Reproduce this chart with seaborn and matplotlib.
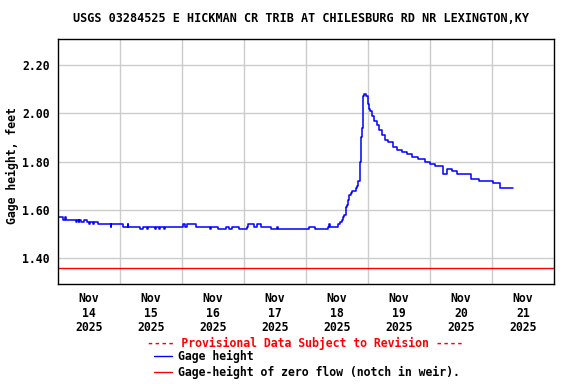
import matplotlib
matplotlib.use('Agg')
import matplotlib.pyplot as plt
from matplotlib.lines import Line2D
import pandas as pd
import seaborn as sns

# Gage height readings (hours after 2025-11-14 00:00, feet), step data
start = pd.Timestamp('2025-11-14 00:00')
gage_hours = [
    0.0, 1.9, 2.7, 3.1, 7.0, 7.3, 8.0, 8.3, 9.0, 10.0, 11.2, 12.0, 12.4, 13.5, 13.9, 15.5,
    20.5, 20.7, 25.2, 27.0, 27.2, 31.7, 32.9, 34.4, 34.7, 37.5, 37.8, 39.1, 39.4, 41.0, 41.5,
    48.4, 49.2, 50.0, 53.5, 58.8, 59.1, 62.0, 65.0, 66.3, 67.5, 70.0, 73.2,
    73.5, 75.9, 77.0, 78.6, 82.5, 84.8, 85.2, 97.2, 99.5, 104.5, 105.0, 105.3,
    108.4, 109.2, 109.8, 110.3, 110.8, 111.4, 111.9, 112.3, 112.8, 113.3, 113.8, 115.2,
    115.8, 116.3, 116.9, 117.3, 117.8, 118.2, 118.6, 119.1, 119.9, 120.4, 120.8, 121.4,
    122.4, 123.4, 124.4, 125.3, 126.6, 127.9, 129.6, 131.1, 133.0, 135.0, 136.9, 139.5,
    142.1, 144.0, 145.9, 148.9, 149.1, 150.6, 152.5, 154.5, 159.9, 163.0, 168.4, 171.1, 176.3,
]
gage_values = [
    1.57, 1.56, 1.57, 1.56, 1.55, 1.56, 1.55, 1.56, 1.55, 1.56, 1.55, 1.54, 1.55, 1.54, 1.55, 1.54,
    1.53, 1.54, 1.53, 1.54, 1.53, 1.52, 1.53, 1.52, 1.53, 1.52, 1.53, 1.52, 1.53, 1.52, 1.53,
    1.54, 1.53, 1.54, 1.53, 1.52, 1.53, 1.52, 1.53, 1.52, 1.53, 1.52, 1.53,
    1.54, 1.53, 1.54, 1.53, 1.52, 1.53, 1.52, 1.53, 1.52, 1.53, 1.54, 1.53,
    1.54, 1.55, 1.56, 1.57, 1.58, 1.61, 1.62, 1.64, 1.66, 1.67, 1.68, 1.69,
    1.70, 1.72, 1.80, 1.90, 1.94, 2.07, 2.08, 2.07, 2.04, 2.02, 2.01, 1.99,
    1.97, 1.95, 1.93, 1.91, 1.89, 1.88, 1.86, 1.85, 1.84, 1.83, 1.82, 1.81,
    1.80, 1.79, 1.78, 1.76, 1.75, 1.77, 1.76, 1.75, 1.73, 1.72, 1.71, 1.69, 1.69,
]
zero_flow = 1.36

tick_days = pd.date_range('2025-11-14 12:00', periods=8, freq='D')
y_ticks = [1.40, 1.60, 1.80, 2.00, 2.20]

df = pd.DataFrame({
    'time': start + pd.to_timedelta(gage_hours, unit='h'),
    'height': gage_values,
})

sns.set_style('white')
plt.rcParams['font.family'] = ['DejaVu Sans Mono']
plt.rcParams['font.weight'] = 'bold'
for key in ['text.color', 'xtick.color', 'ytick.color', 'axes.labelcolor']:
    plt.rcParams[key] = 'black'

fig = plt.figure(figsize=(5.76, 3.84), dpi=100)
ax = fig.add_axes([58 / 576, 1 - 284 / 384, 496 / 576, 245 / 384])

sns.lineplot(data=df, x='time', y='height', ax=ax, color='blue', lw=1.1,
             drawstyle='steps-post', estimator=None)
ax.axhline(zero_flow, color='red', lw=1)

ax.set_xlim(start, start + pd.Timedelta(days=8))
ax.set_ylim(1.293, 2.308)

ax.set_yticks(y_ticks)
ax.set_yticklabels(['%.2f' % v for v in y_ticks], fontsize=8.3, fontweight='bold')
ax.set_xticks(tick_days)
ax.set_xticklabels([d.strftime('%b\n%d\n%Y') for d in tick_days], fontsize=8.3,
                   fontweight='bold', linespacing=1.15)
ax.set_xticks(pd.date_range('2025-11-15', periods=7, freq='D'), minor=True)
ax.tick_params(which='both', length=0)
ax.tick_params(axis='y', pad=6)
ax.tick_params(axis='x', pad=6)

ax.grid(False)
ax.grid(which='minor', axis='x', color='#cccccc', lw=1)
ax.grid(which='major', axis='y', color='#cccccc', lw=1)
ax.set_axisbelow(True)
for s in ax.spines.values():
    s.set_color('black')
    s.set_linewidth(1)

ax.set_xlabel('')
ax.set_ylabel('')
fig.text(12 / 576, 1 - 166 / 384, 'Gage height, feet', rotation=90, ha='center', va='center',
         fontsize=8.3, fontweight='bold')

fig.text(0.5234, 1 - 19 / 384, 'USGS 03284525 E HICKMAN CR TRIB AT CHILESBURG RD NR LEXINGTON,KY',
         ha='center', va='center', fontsize=8.5, fontweight='bold')

# legend block under the axes
fig.text(305.5 / 576, 1 - 343 / 384, '---- Provisional Data Subject to Revision ----',
         ha='center', va='center', color='red', fontsize=8.3, fontweight='bold')
for yy, col, label in [(356, 'blue', 'Gage height'),
                       (372, 'red', 'Gage-height of zero flow (notch in weir).')]:
    fig.add_artist(Line2D([154 / 576, 172 / 576], [1 - yy / 384, 1 - yy / 384], color=col, lw=1))
    fig.text(178 / 576, 1 - yy / 384, label, ha='left', va='center', fontsize=8.3, fontweight='bold')

fig.savefig('out.png', dpi=100)
